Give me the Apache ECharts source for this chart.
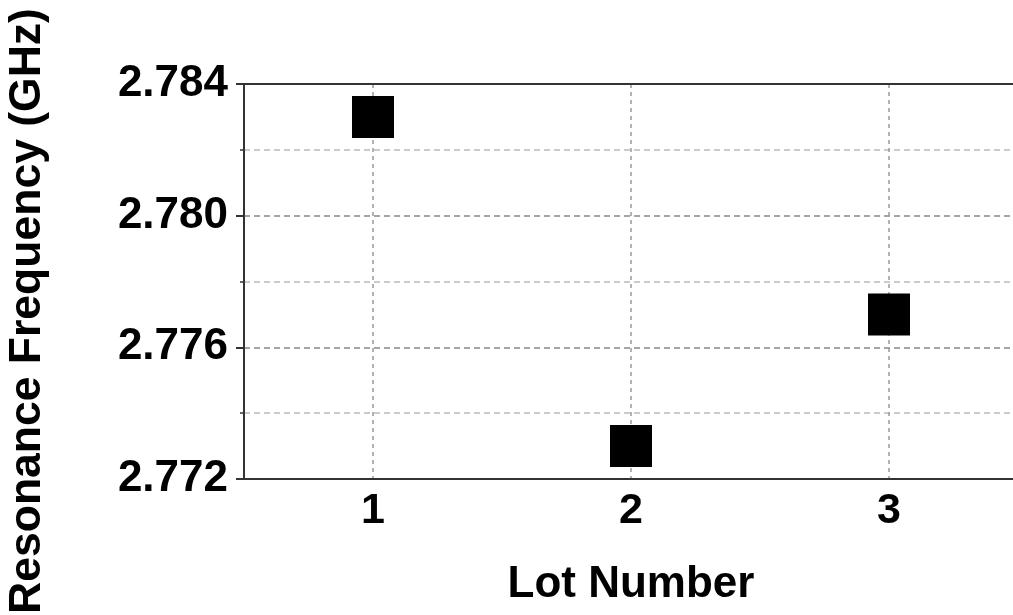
<!DOCTYPE html>
<html>
<head>
<meta charset="utf-8">
<script src="https://cdn.jsdelivr.net/npm/echarts@6/dist/echarts.min.js"></script>
<style>
  html, body { margin: 0; padding: 0; background: #fff; }
  #chart { width: 1013px; height: 615px; }
</style>
</head>
<body>
<div id="chart"></div>
<script>
// lot numbers and measured resonance frequencies (GHz)
const lots = ["1", "2", "3"];
const frequency = [2.783, 2.773, 2.777];
const yMin = 2.772;
const yMax = 2.784;
const yStep = 0.004;

const font = "Liberation Sans, Arial, sans-serif";

const chart = echarts.init(document.getElementById("chart"));

chart.setOption({
  animation: false,
  backgroundColor: "#fff",
  grid: {
    left: 244,
    top: 84,
    width: 774,
    height: 395,
    outerBoundsMode: "none",
    containLabel: false,
  },
  xAxis: [
    {
      type: "category",
      data: lots,
      boundaryGap: true,
      name: "Lot Number",
      nameLocation: "middle",
      nameGap: 84,
      nameTextStyle: {
        color: "#000",
        fontFamily: font,
        fontWeight: "bold",
        fontSize: 44,
      },
      axisLine: { lineStyle: { color: "#333", width: 2 } },
      axisTick: {
        alignWithLabel: true,
        length: 8,
        lineStyle: { color: "#333", width: 2 },
      },
      axisLabel: {
        margin: 11,
        color: "#000",
        fontFamily: font,
        fontWeight: "bold",
        fontSize: 43,
      },
      splitLine: {
        show: true,
        alignWithLabel: true,
        lineStyle: { color: "#999", type: [4, 4], width: 1.5 },
      },
    },
    {
      // top frame line
      type: "category",
      data: lots,
      position: "top",
      axisLine: { show: true, lineStyle: { color: "#333", width: 2 } },
      axisTick: { show: false },
      axisLabel: { show: false },
      splitLine: { show: false },
      z: 5,
    },
  ],
  yAxis: {
    type: "value",
    min: yMin,
    max: yMax,
    interval: yStep,
    axisLine: { show: true, lineStyle: { color: "#333", width: 2 } },
    axisTick: {
      show: true,
      length: 8,
      lineStyle: { color: "#333", width: 2 },
    },
    minorTick: {
      show: true,
      splitNumber: 2,
      length: 4,
      lineStyle: { color: "#333", width: 1.5 },
    },
    axisLabel: {
      margin: 16,
      color: "#000",
      fontFamily: font,
      fontWeight: "bold",
      fontSize: 44,
      formatter: (v) => v.toFixed(3),
    },
    splitLine: {
      show: true,
      lineStyle: { color: "#888", type: [6, 4], width: 1.5 },
    },
    minorSplitLine: {
      show: true,
      lineStyle: { color: "#bbb", type: [6, 4], width: 1.5 },
    },
  },
  graphic: [
    {
      type: "text",
      x: 28,
      y: 311,
      rotation: Math.PI / 2,
      style: {
        text: "Resonance Frequency (GHz)",
        fill: "#000",
        font: "bold 44.5px " + font,
        textAlign: "center",
        textVerticalAlign: "middle",
      },
    },
  ],
  series: [
    {
      type: "scatter",
      symbol: "rect",
      symbolSize: 42,
      itemStyle: { color: "#000", opacity: 1 },
      data: lots.map((l, i) => [l, frequency[i]]),
    },
  ],
});
</script>
</body>
</html>
